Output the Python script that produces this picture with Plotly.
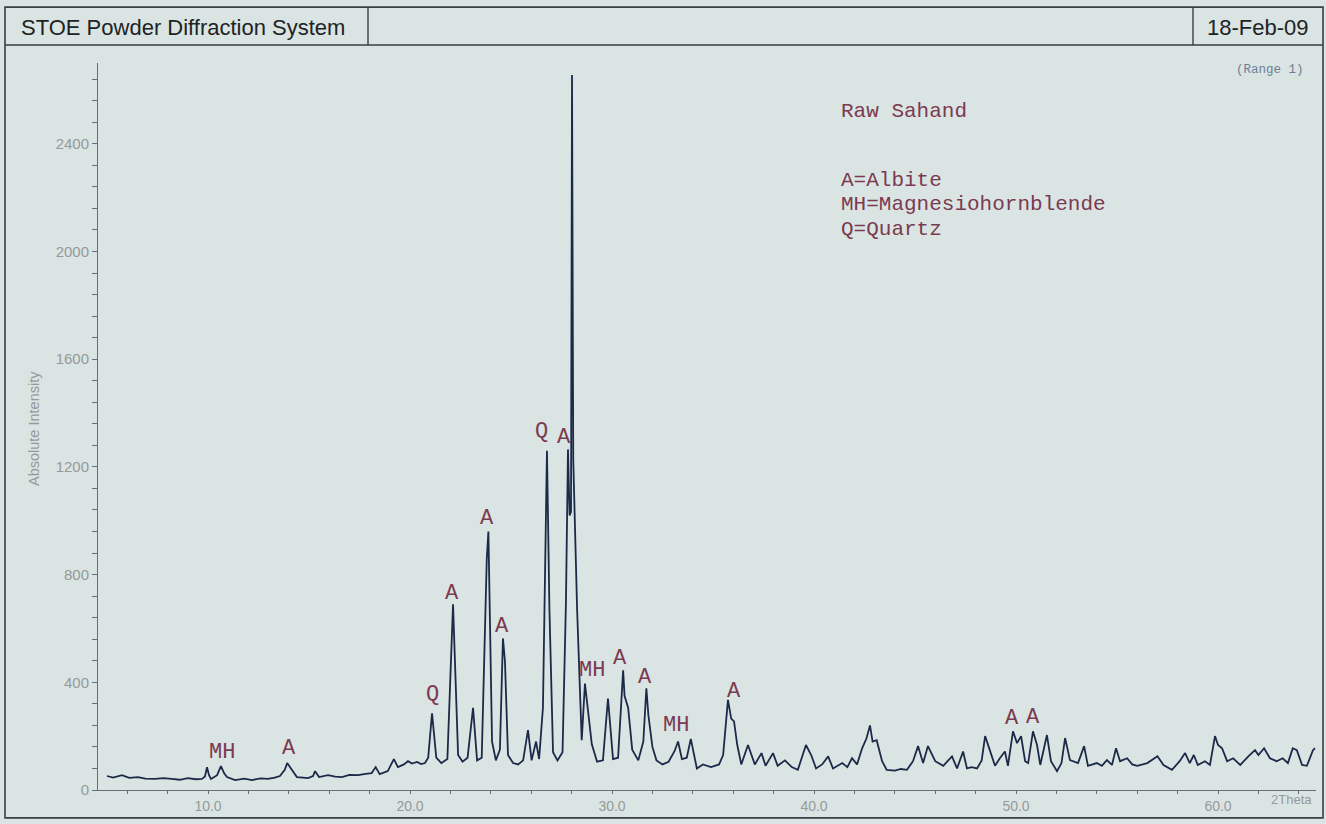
import plotly.graph_objects as go

# ---- data (2Theta, absolute intensity) ----
two_theta = [
    5.0, 5.3, 5.74, 6.1, 6.53, 6.9, 7.38, 7.8, 8.2, 8.6, 9.0, 9.4, 9.7, 9.85, 9.95, 10.05, 10.15,
    10.45, 10.64, 10.8, 10.94, 11.34, 11.8, 12.18, 12.6, 12.97, 13.3, 13.56, 13.8, 13.92, 14.16,
    14.4, 14.7, 14.95, 15.2, 15.3, 15.5, 15.94, 16.3, 16.63, 17.0, 17.43, 17.8, 18.1, 18.3, 18.5,
    18.9, 19.2, 19.4, 19.7, 19.9, 20.1, 20.35, 20.55, 20.74,
    20.9, 21.09, 21.3, 21.55, 21.85, 22.13, 22.38, 22.6, 22.85, 23.12, 23.32, 23.55, 23.8, 23.88,
    24.06, 24.25, 24.45, 24.6, 24.7, 24.85, 25.1, 25.35, 25.6, 25.84, 26.02, 26.24, 26.39, 26.58,
    26.78, 26.9, 27.08, 27.3, 27.55, 27.72, 27.82, 27.9, 27.97, 28.02, 28.08, 28.27, 28.5, 28.66,
    28.8, 29.0, 29.26, 29.55, 29.8, 30.05, 30.3, 30.55, 30.62, 30.8, 31.0, 31.3, 31.55, 31.7, 31.8,
    32.0, 32.2, 32.5, 32.8, 33.1, 33.27, 33.46, 33.7, 33.9,
    34.2, 34.5, 34.9, 35.3, 35.5, 35.74, 35.9, 36.04, 36.2, 36.4, 36.73, 37.07, 37.4, 37.6, 37.97,
    38.2, 38.56, 38.9, 39.2, 39.6, 39.86, 40.1, 40.4, 40.7, 40.94, 41.2, 41.4, 41.65, 41.88, 42.13,
    42.38, 42.6, 42.77, 42.9, 43.1, 43.37, 43.6, 44.0, 44.3, 44.6, 44.9, 45.15, 45.4, 45.64, 46.0,
    46.4, 46.83, 47.08, 47.38, 47.57, 47.8, 48.07, 48.3, 48.47, 48.7, 48.96, 49.2, 49.45, 49.6,
    49.85, 50.05, 50.25, 50.45, 50.6, 50.84, 51.04, 51.2, 51.53, 51.73, 52.03, 52.25, 52.43, 52.67,
    53.07, 53.37, 53.56, 54.0, 54.25, 54.5, 54.75, 54.95, 55.15, 55.5, 55.75, 56.0, 56.5, 57.0,
    57.3, 57.72, 58.1, 58.37, 58.6, 58.8, 59.0, 59.35, 59.6, 59.85, 60.0, 60.2, 60.45, 60.75, 61.1,
    61.5, 61.83, 62.0, 62.28, 62.57, 62.9, 63.2, 63.46, 63.7, 63.9, 64.16, 64.4, 64.7, 64.8,
]
intensity = [
    52, 46, 55, 45, 48, 42, 41, 44, 41, 38, 44, 40, 41, 50, 85, 55, 41,
    55, 89, 62, 48, 37, 42, 37, 43, 41, 46, 52, 75, 100, 74,
    48, 46, 44, 52, 70, 48, 55, 50, 48, 56, 55, 60, 63, 85, 59,
    70, 115, 85, 95, 107, 98, 104, 96, 100,
    120, 285, 120, 100, 115, 690, 130, 105, 120, 305, 110, 120, 860, 960,
    180, 110, 150, 563, 478, 130, 100, 95, 110, 222, 110, 180, 115, 305,
    1260, 675, 140, 110, 140, 700, 1265, 1020, 1033, 2655, 1230, 675, 185, 395,
    305, 170, 105, 110, 340, 115, 120, 445, 350, 305, 150, 110, 180, 378, 278,
    160, 110, 95, 105, 145, 180, 115, 120, 190,
    80, 95, 85, 95, 130, 335, 265, 255, 167, 95, 167, 95, 137, 90, 137,
    90, 110, 85, 75, 167, 130, 80, 95, 125, 80, 90, 100, 85, 118, 95,
    155, 192, 240, 180, 185, 107, 75, 72, 78, 75, 107, 163, 100, 163, 107,
    90, 125, 80, 143, 80, 85, 80, 110, 200, 150, 90, 118, 143, 90,
    218, 174, 200, 107, 100, 218, 167, 93, 204, 107, 70, 100, 193, 111,
    100, 163, 90, 100, 90, 111, 93, 155, 107, 118, 95, 90, 100, 125,
    93, 75, 107, 137, 100, 130, 93, 107, 93, 200, 167, 155, 107, 118, 93,
    125, 148, 130, 155, 118, 107, 118, 100, 155, 148, 93, 90, 148, 155,
]

peak_labels = ["MH", "A", "Q", "A", "A", "A", "Q", "A", "A", "MH", "A", "A", "MH", "A", "A", "A"]
peak_x = [10.69, 14.0, 21.09, 22.08, 23.81, 24.55, 26.53, 27.62, 27.77, 29.0, 30.4, 31.63, 33.17, 36.04, 49.8, 50.84]
peak_y = [141, 155, 355, 730, 1007, 607, 1333, 1311, 2711, 444, 489, 419, 241, 367, 267, 270]

legend_lines = ["Raw Sahand", "A=Albite", "MH=Magnesiohornblende", "Q=Quartz"]
x_tick_vals = [10, 20, 30, 40, 50, 60]
x_tick_text = ["10.0", "20.0", "30.0", "40.0", "50.0", "60.0"]
y_tick_vals = [0, 400, 800, 1200, 1600, 2000, 2400]

# ---- layout geometry ----
W, H = 1326, 824
L, R, T, B = 98, 10, 63, 32
PW, PH = W - L - R, H - T - B
X_RANGE = [4.554, 64.85]
Y_RANGE = [0, 2700]

BG = "#dae4e3"
INK = "#1c2a4a"
MAROON = "#7b3a50"
GRAY = "#959a9a"
AXIS = "#6a6e6e"
FRAME = "#3a3f40"
MONO = "Liberation Mono, Courier New, monospace"
SANS = "Liberation Sans, Arial, sans-serif"


def px(xp):
    return (xp - L) / PW


def py(yp):
    return (H - B - yp) / PH


fig = go.Figure()
fig.add_trace(go.Scatter(
    x=two_theta, y=intensity, mode="lines",
    line=dict(color=INK, width=1.8), hoverinfo="skip", showlegend=False,
))

annotations = []
for lab, xv, yv in zip(peak_labels, peak_x, peak_y):
    annotations.append(dict(
        x=xv, y=yv, xref="x", yref="y", text=lab, showarrow=False,
        font=dict(family=MONO, size=22, color=MAROON),
        xanchor="center", yanchor="middle",
    ))

legend_ys = [112, 180.5, 205, 229.5]
for txt, yp in zip(legend_lines, legend_ys):
    annotations.append(dict(
        x=px(839), y=py(yp), xref="paper", yref="paper", text=txt, showarrow=False,
        font=dict(family=MONO, size=21, color=MAROON),
        xanchor="left", yanchor="middle",
    ))

annotations += [
    dict(x=px(19), y=py(27), xref="paper", yref="paper", text="STOE Powder Diffraction System",
         showarrow=False, xanchor="left", yanchor="middle",
         font=dict(family=SANS, size=22, color="#202324")),
    dict(x=px(1311), y=py(27), xref="paper", yref="paper", text="18-Feb-09",
         showarrow=False, xanchor="right", yanchor="middle",
         font=dict(family=SANS, size=22, color="#202324")),
    dict(x=px(1306), y=py(70), xref="paper", yref="paper", text="(Range 1)",
         showarrow=False, xanchor="right", yanchor="middle",
         font=dict(family=MONO, size=12.5, color="#6f7f95")),
    dict(x=px(1291), y=py(802), xref="paper", yref="paper", text="2Theta",
         showarrow=False, xanchor="center", yanchor="middle",
         font=dict(family=SANS, size=13, color=GRAY)),
    dict(x=px(34), y=py(430), xref="paper", yref="paper", text="Absolute Intensity",
         showarrow=False, textangle=-90, xanchor="center", yanchor="middle",
         font=dict(family=SANS, size=14.5, color=GRAY)),
]

shapes = [
    dict(type="rect", xref="paper", yref="paper", x0=px(5), x1=px(1323), y0=py(7), y1=py(820),
         line=dict(color=FRAME, width=1.6), fillcolor="rgba(0,0,0,0)", layer="below"),
    dict(type="line", xref="paper", yref="paper", x0=px(5), x1=px(1323), y0=py(45), y1=py(45),
         line=dict(color=FRAME, width=1.6)),
    dict(type="line", xref="paper", yref="paper", x0=px(368), x1=px(368), y0=py(7), y1=py(45),
         line=dict(color=FRAME, width=1.4)),
    dict(type="line", xref="paper", yref="paper", x0=px(1193), x1=px(1193), y0=py(7), y1=py(45),
         line=dict(color=FRAME, width=1.4)),
]

fig.update_layout(
    width=W, height=H,
    margin=dict(l=L, r=R, t=T, b=B, pad=0),
    paper_bgcolor=BG, plot_bgcolor=BG,
    annotations=annotations, shapes=shapes,
    showlegend=False,
    xaxis=dict(
        range=X_RANGE, showgrid=False, zeroline=False,
        showline=True, linecolor=AXIS, linewidth=1,
        tickmode="array", tickvals=x_tick_vals, ticktext=x_tick_text,
        ticks="outside", ticklen=3, tickcolor=AXIS,
        tickfont=dict(family=SANS, size=14, color=GRAY),
        minor=dict(dtick=2, tick0=0, ticks="outside", ticklen=3, tickcolor=AXIS, showgrid=False),
    ),
    yaxis=dict(
        range=Y_RANGE, showgrid=False, zeroline=False,
        showline=True, linecolor=AXIS, linewidth=1,
        tickmode="array", tickvals=y_tick_vals,
        ticks="outside", ticklen=5, tickcolor=AXIS,
        tickfont=dict(family=SANS, size=15, color=GRAY),
        minor=dict(dtick=80, tick0=0, ticks="outside", ticklen=5, tickcolor=AXIS, showgrid=False),
    ),
)

fig.write_html(
    "out.html",
    config={"displayModeBar": False},
    post_script="document.body.style.margin='0px';document.body.style.overflow='hidden';",
)
